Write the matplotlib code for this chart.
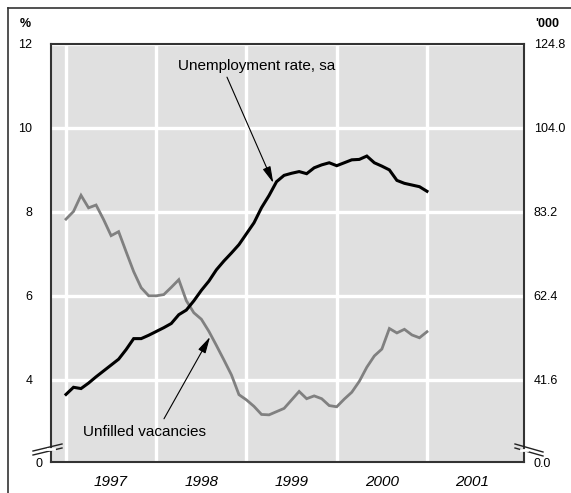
import numpy as np
import matplotlib.pyplot as plt
from matplotlib.lines import Line2D

plt.rcParams['font.family'] = ['Liberation Sans', 'DejaVu Sans']

# monthly, Jan 1997 .. Jan 2001
months = 1997 + np.arange(49) / 12.0

# unemployment rate, sa (%)
unemp = [3.65, 3.82, 3.79, 3.92, 4.07, 4.21, 4.35, 4.49, 4.72, 4.98, 4.98, 5.06,
         5.15, 5.24, 5.34, 5.55, 5.66, 5.88, 6.13, 6.35, 6.62, 6.83, 7.02, 7.22,
         7.48, 7.74, 8.10, 8.39, 8.72, 8.87, 8.92, 8.96, 8.91, 9.05, 9.12, 9.17,
         9.10, 9.17, 9.24, 9.25, 9.33, 9.17, 9.09, 9.00, 8.75, 8.68, 8.64, 8.60,
         8.49]

# unfilled vacancies ('000)
vacancies = [81.4, 83.3, 87.3, 84.2, 84.9, 81.3, 77.3, 78.3, 73.3, 68.4, 64.4, 62.4,
             62.4, 62.7, 64.5, 66.4, 61.2, 58.2, 56.6, 53.6, 50.1, 46.5, 42.8, 37.9,
             36.6, 35.0, 33.0, 32.9, 33.7, 34.5, 36.6, 38.7, 36.9, 37.6, 36.9, 35.2,
             34.9, 36.8, 38.5, 41.2, 44.7, 47.5, 49.2, 54.3, 53.2, 54.1, 52.7, 52.0,
             53.5]

left_ticks = [4, 6, 8, 10, 12]
left_labels = ['4', '6', '8', '10', '12']
right_ticks = [41.6, 62.4, 83.2, 104.0, 124.8]
right_labels = ['41.6', '62.4', '83.2', '104.0', '124.8']
years = [1997, 1998, 1999, 2000, 2001]

W, H = 571, 493
fig = plt.figure(figsize=(W / 100, H / 100), dpi=100)


def px(x, y):
    return x / W, 1 - y / H


# back axes: background, grid, vacancies, right scale
ax2 = fig.add_axes([51 / W, 1 - 462 / H, 473 / W, 418 / H])
# front axes: unemployment, left scale
ax = fig.add_axes(ax2.get_position(), sharex=ax2)
ax.yaxis.tick_left()
ax2.yaxis.tick_right()
ax.patch.set_visible(False)
ax2.set_facecolor('#e0e0e0')

ymin = 2.04
ax.set_ylim(ymin, 12)
ax2.set_ylim(ymin * 10.4, 124.8)
ax2.set_xlim(1996.834, 2002.075)

ax2.set_xticks(years)
ax2.set_xticks([y + 0.5 for y in years], minor=True)
ax2.set_xticklabels([])
ax2.set_xticklabels([str(y) for y in years], minor=True, fontstyle='italic', fontsize=11)
ax2.tick_params(axis='x', which='both', length=0)
ax2.tick_params(axis='x', which='minor', pad=9)
ax.tick_params(axis='x', which='both', length=0, labelbottom=False)

ax2.set_yticks(right_ticks)
ax2.set_yticklabels(right_labels, fontsize=9)
ax2.tick_params(axis='y', length=0, pad=7)
ax.set_yticks(left_ticks)
ax.set_yticklabels(left_labels, fontsize=9)
ax.tick_params(axis='y', length=0, pad=13.5)

ax2.grid(True, which='major', color='white', linewidth=2.4)
ax2.set_axisbelow(True)

for s in ax2.spines.values():
    s.set_color('#333333')
    s.set_linewidth(1.5)
for s in ax.spines.values():
    s.set_visible(False)

ax2.plot(months, vacancies, color='#808080', linewidth=2.0, solid_joinstyle='miter')
ax.plot(months, unemp, color='black', linewidth=2.2, solid_joinstyle='miter')

arrow = dict(arrowstyle='-|>,head_length=1.0,head_width=0.25', color='black',
             linewidth=0.8, shrinkA=0, shrinkB=0)
ax.annotate('', xy=(1999.297, 8.69), xytext=(1998.784, 11.21), arrowprops=arrow)
ax.text(1998.241, 11.38, 'Unemployment rate, sa', fontsize=11, ha='left', va='baseline')
ax.annotate('', xy=(1998.596, 5.02), xytext=(1998.086, 3.07), arrowprops=arrow)
ax.text(1997.188, 2.66, 'Unfilled vacancies', fontsize=11, ha='left', va='baseline')

# axis unit labels and zero labels
fig.text(*px(20, 24), '%', fontsize=9, fontweight='bold', ha='left', va='center')
fig.text(*px(535, 24), "'000", fontsize=9, fontweight='bold', ha='left', va='center')
fig.text(*px(36, 464), '0', fontsize=9, ha='left', va='center')
fig.text(*px(533, 464), '0.0', fontsize=9, ha='left', va='center')

# axis break marks
for (x0, y0, x1, y1) in [(33, 451, 62, 444), (33, 455, 62, 448),
                         (515, 444, 543, 452), (515, 448, 543, 456)]:
    a, b = px(x0, y0)
    c, d = px(x1, y1)
    fig.add_artist(Line2D([a, c], [b, d], color='#222222', linewidth=1.0))
# white gap between break marks on spines
a, b = px(48, 448.5)
c, d = px(54, 448.5)
fig.add_artist(Line2D([a, c], [b, d], color='white', linewidth=2.0))
a, b = px(521, 449.5)
c, d = px(527, 449.5)
fig.add_artist(Line2D([a, c], [b, d], color='white', linewidth=2.0))

# outer frame (top and left edges visible)
fig.add_artist(Line2D([8 / W, 1], [1 - 8 / H, 1 - 8 / H], color='#333333', linewidth=1.2))
fig.add_artist(Line2D([8 / W, 8 / W], [0, 1 - 8 / H], color='#333333', linewidth=1.2))

fig.savefig('out.png', dpi=100)
